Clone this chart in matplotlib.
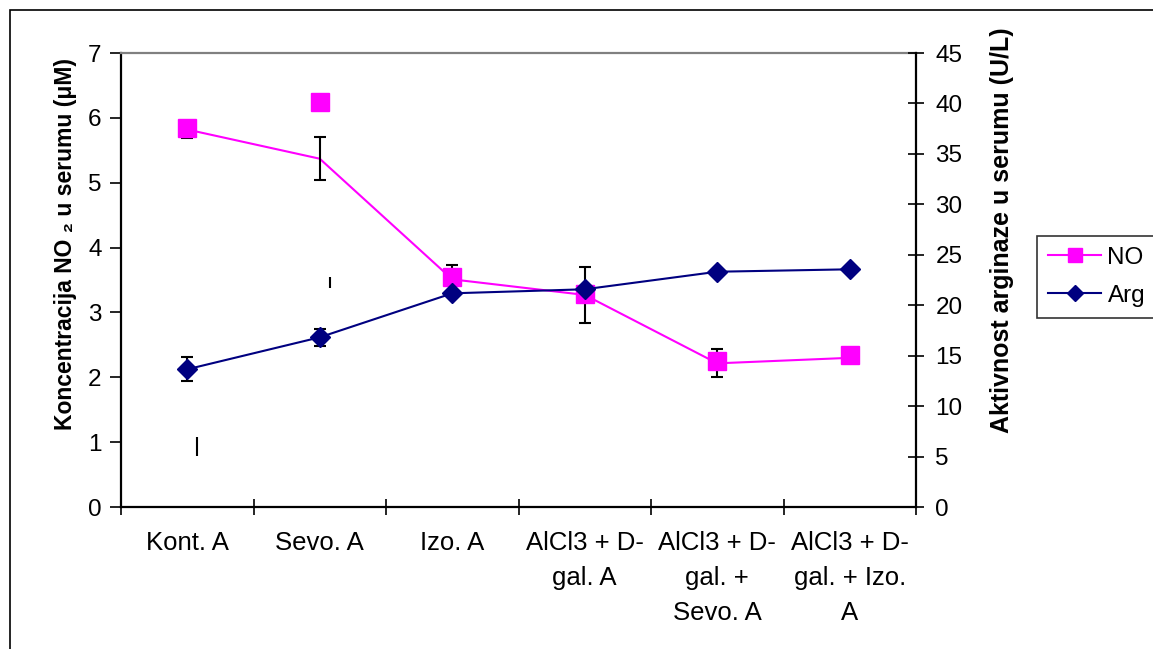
import matplotlib
matplotlib.use("Agg")
import matplotlib.pyplot as plt
from matplotlib.patches import Rectangle
from matplotlib.lines import Line2D
import numpy as np

plt.rcParams['font.family'] = ['Liberation Sans', 'DejaVu Sans']

categories = ["Kont. A", "Sevo. A", "Izo. A", "AlCl3 + D-\ngal. A",
              "AlCl3 + D-\ngal. +\nSevo. A", "AlCl3 + D-\ngal. + Izo.\nA"]
no_line = [5.82, 5.37, 3.51, 3.27, 2.215, 2.30]
no_markers = [5.85, 6.24, 3.55, 3.29, 2.25, 2.34]
no_err = [0.13, 0.33, 0.22, 0.43, 0.215, 0.0]
arg_values = [13.65, 16.82, 21.18, 21.58, 23.32, 23.56]
arg_err = [1.2, 0.83, 0.0, 0.0, 0.0, 0.0]
stray_lo = [0.79, 3.37]
stray_hi = [1.08, 3.55]

left_ticks = [0, 1, 2, 3, 4, 5, 6, 7]
right_ticks = [0, 5, 10, 15, 20, 25, 30, 35, 40, 45]

W, H = 1153, 649
fig = plt.figure(figsize=(W / 100, H / 100), dpi=100)
fig.patches.append(Rectangle((10 / W, -0.5), 2.0, 0.5 + 1 - 10 / H,
                             transform=fig.transFigure, fill=False,
                             edgecolor='black', linewidth=1.2, zorder=0))

ax = fig.add_axes([121 / W, 1 - 507 / H, 795 / W, 454 / H])
ax.set_facecolor('none')
ax2 = ax.twinx()

x = np.arange(len(categories))
FS_TICK = 17.5
FS_X = 18.5

# NO series (left axis)
ax.plot(x, no_line, color='#FF00FF', linewidth=1.5, zorder=2)
ax.errorbar(x, no_line, yerr=no_err, fmt='none', ecolor='black',
            elinewidth=1.5, capsize=4.3, capthick=1.5, zorder=3)
ax.plot(x, no_markers, linestyle='none', marker='s', markersize=13.5,
        color='#FF00FF', zorder=4)
ax.vlines(x[:len(stray_lo)] + 0.075, stray_lo, stray_hi, color='black',
          linewidth=1.5, zorder=3)

# Arg series (right axis)
ax2.plot(x, arg_values, color='#000080', linewidth=1.5, zorder=2)
ax2.errorbar(x, arg_values, yerr=arg_err, fmt='none', ecolor='black',
             elinewidth=1.5, capsize=4.3, capthick=1.5, zorder=3)
ax2.plot(x, arg_values, linestyle='none', marker='D', markersize=10.5,
         color='#000080', zorder=4)

ax.set_xlim(-0.5, len(categories) - 0.5)
ax.set_ylim(0, 7)
ax2.set_ylim(0, 45)
ax.set_yticks(left_ticks)
ax2.set_yticks(right_ticks)
ax.set_xticks(np.arange(-0.5, len(categories), 1.0))
ax.set_xticklabels([])
ax.set_xticks(x, minor=True)
ax.set_xticklabels(categories, minor=True, fontsize=FS_X,
                   linespacing=1.6, va='top', ha='center')
ax.tick_params(axis='x', which='minor', length=0, pad=17)
ax.tick_params(axis='x', which='major', direction='inout', length=12, width=1.2)
ax.tick_params(axis='y', direction='out', length=8, width=1.2,
               labelsize=FS_TICK, pad=6)
ax2.tick_params(axis='y', direction='inout', length=12, width=1.2,
                labelsize=FS_TICK, pad=8)

for s in ['left', 'bottom']:
    ax.spines[s].set_color('black')
    ax.spines[s].set_linewidth(1.6)
ax.spines['top'].set_color('#808080')
ax.spines['top'].set_linewidth(1.6)
ax.spines['right'].set_visible(False)
ax2.spines['right'].set_color('black')
ax2.spines['right'].set_linewidth(1.6)
for s in ['left', 'bottom', 'top']:
    ax2.spines[s].set_visible(False)

ax.set_ylabel("Koncentracija NO ₂ u serumu (μM)", fontsize=16.5, fontweight='bold')
ax.yaxis.set_label_coords(-0.055, 0.58)
ax2.set_ylabel("Aktivnost arginaze u serumu (U/L)", fontsize=18, fontweight='bold')
ax2.yaxis.set_label_coords(1.093, 0.61)

handles = [Line2D([], [], color='#FF00FF', linewidth=1.5, marker='s', markersize=10),
           Line2D([], [], color='#000080', linewidth=1.5, marker='D', markersize=8)]
leg = fig.legend(handles, ["NO", "Arg"], loc='upper left',
                 bbox_to_anchor=(1037 / W, 1 - 236 / H), fontsize=FS_TICK,
                 frameon=True, fancybox=False, shadow=False, borderaxespad=0,
                 handlelength=2.2, handletextpad=0.25, borderpad=0.45,
                 labelspacing=0.65)
leg.get_frame().set_edgecolor('black')
leg.get_frame().set_linewidth(1.2)

fig.savefig("out.png", dpi=100)
